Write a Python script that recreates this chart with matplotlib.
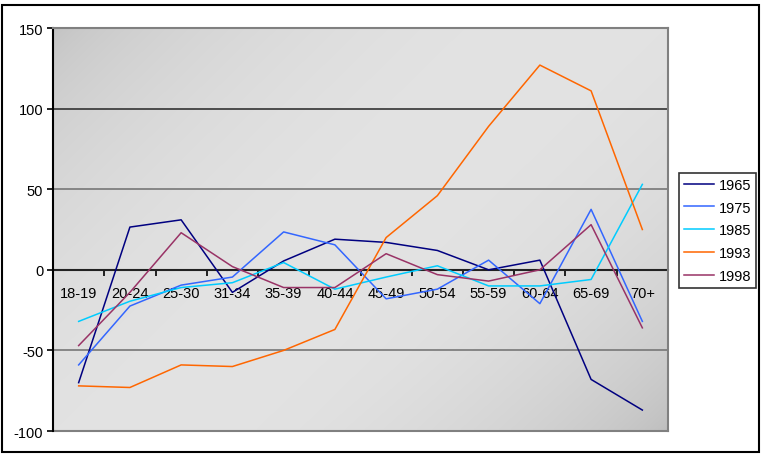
import matplotlib
matplotlib.use("Agg")
import matplotlib.pyplot as plt
import numpy as np
from matplotlib.patches import Rectangle

categories = ["18-19", "20-24", "25-30", "31-34", "35-39", "40-44", "45-49",
              "50-54", "55-59", "60-64", "65-69", "70+"]
s1965 = [-70, 26.5, 31, -14, 5.5, 19, 17, 12, 0, 6, -68, -87]
s1975 = [-59, -22.5, -9.5, -4.5, 23.5, 15.5, -18, -12, 6, -21, 37.5, -32]
s1985 = [-32, -19.5, -11, -8, 4.5, -12, -4.5, 2.5, -10, -10, -6, 53]
s1993 = [-72, -73, -59, -60, -50, -37, 20, 46, 89, 127, 111, 25]
s1998 = [-47, -14, 23, 2, -11, -11, 10, -3, -7, 0, 28, -36]
series_names = ["1965", "1975", "1985", "1993", "1998"]
series = [s1965, s1975, s1985, s1993, s1998]
colors = ["#000080", "#3366FF", "#00CCFF", "#FF6600", "#993366"]
yticks = [-100, -50, 0, 50, 100, 150]

plt.rcParams['font.family'] = ['Liberation Sans', 'DejaVu Sans']
FS = 10.5

fig = plt.figure(figsize=(7.62, 4.56), dpi=100)
fig.patch.set_facecolor("white")
# outer border
fig.add_artist(Rectangle((0.002, 0.006), 0.994, 0.981, transform=fig.transFigure,
                         fill=False, edgecolor="black", linewidth=1.5))

ax = fig.add_axes([0.0696, 0.0526, 0.8070, 0.8838])
x = np.arange(len(categories))
ax.set_xlim(-0.5, len(categories) - 0.5)
ax.set_ylim(-100, 150)

# gradient background
ny, nx = 100, 200
gx, gy = np.meshgrid(np.linspace(0, 1, nx), np.linspace(0, 1, ny))
d = (gx * 0.6 + gy * 0.4)
vals = 0.76 + 0.13 * np.sin(np.pi * np.clip(d, 0, 1)) ** 0.6
vals = vals - 0.03 * np.clip(gx + gy - 1.4, 0, 1)
img = np.dstack([vals, vals, vals])
ax.imshow(img, extent=[-0.5, len(categories) - 0.5, -100, 150], aspect='auto',
          origin='upper', zorder=0, interpolation='bilinear')

# gridlines
for yv, c in [(100, "#333333"), (50, "#777777"), (-50, "#777777")]:
    ax.axhline(yv, color=c, linewidth=1.2, zorder=1)

for name, vals_s, col in zip(series_names, series, colors):
    ax.plot(x, vals_s, color=col, linewidth=1.1, label=name, zorder=3)

# spines
for s in ["top", "right"]:
    ax.spines[s].set_color("#808080")
    ax.spines[s].set_linewidth(1.5)
ax.spines["left"].set_color("black")
ax.spines["left"].set_linewidth(1.5)
ax.spines["bottom"].set_position(("data", 0))
ax.spines["bottom"].set_color("#222222")
ax.spines["bottom"].set_linewidth(1.5)
ax.spines["bottom"].set_zorder(2)
ax.axhline(-100, color="#808080", linewidth=1.5, zorder=2, clip_on=False)

ax.set_yticks(yticks)
ax.set_yticklabels([str(v) for v in yticks], fontsize=FS)
ax.tick_params(axis='y', direction='out', length=4, width=1.2, pad=3)

edges = np.arange(-0.5, len(categories), 1.0)
ax.set_xticks(edges)
ax.set_xticklabels([""] * len(edges))
ax.tick_params(axis='x', which='major', direction='out', length=4, width=1.2)
ax.set_xticks(x, minor=True)
ax.set_xticklabels(categories, minor=True, fontsize=FS)
ax.tick_params(axis='x', which='minor', length=0, pad=12)

leg = ax.legend(loc="upper left", bbox_to_anchor=(1.0175, 0.641), frameon=True,
                fontsize=FS, handlelength=2.1, handletextpad=0.3,
                borderpad=0.35, labelspacing=0.6, fancybox=False, borderaxespad=0)
leg.get_frame().set_edgecolor("black")
leg.get_frame().set_linewidth(1.2)

fig.savefig("out.png", dpi=100)
